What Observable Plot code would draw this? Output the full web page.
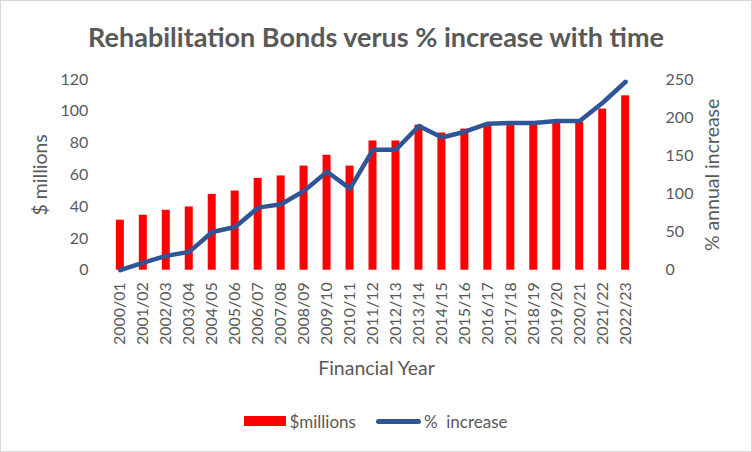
<!DOCTYPE html>
<html>
<head>
<meta charset="utf-8">
<script src="https://cdn.jsdelivr.net/npm/d3@7"></script>
<script src="https://cdn.jsdelivr.net/npm/@observablehq/plot@0.6"></script>
<style>
  html, body { margin: 0; padding: 0; background: #fff; }
  #chart { width: 750px; height: 450px; border: 1px solid #d9d9d9; position: relative; overflow: hidden; font-family: Lato, "Open Sans", sans-serif; color: #595959; }
  #title { position: absolute; left: 0; top: 0; width: 750px; height: 60px; text-align: center; }
  #title span { display: inline-block; font-weight: bold; font-size: 27px; line-height: 27px; margin-top: 22px; white-space: nowrap; }
  #plot { position: absolute; left: -1px; top: 59px; }
  #legend { position: absolute; left: 0; top: 408px; width: 750px; height: 24px; display: flex; justify-content: center; align-items: center; font-size: 17px; }
  .item { display: flex; align-items: center; margin: 0 10px; }
  .sw-bar { width: 42px; height: 10px; background: #ff0000; margin-right: 3px; }
  .sw-line { width: 45px; height: 5px; border-radius: 3px; background: #2f5597; margin-right: 3px; }
</style>
</head>
<body>
<div id="chart">
  <div id="title"><span>Rehabilitation Bonds verus % increase with time</span></div>
  <div id="plot"></div>
  <div id="legend">
    <div class="item"><div class="sw-bar"></div><span>$millions</span></div>
    <div class="item"><div class="sw-line"></div><span>%&nbsp; increase</span></div>
  </div>
</div>
<script>
const years = ["2000/01","2001/02","2002/03","2003/04","2004/05","2005/06","2006/07","2007/08","2008/09","2009/10","2010/11","2011/12","2012/13","2013/14","2014/15","2015/16","2016/17","2017/18","2018/19","2019/20","2020/21","2021/22","2022/23"];
const millions = [31.5,34.6,37.7,39.8,47.7,49.8,57.8,59.3,65.5,72.3,65.5,81.3,81.3,91.3,86.3,88.8,91,92,92,93,93,101.4,109.7];
const pctIncrease = [0,10,18.8,24,50,56.7,82,86.4,104,129,107,158,158,189,174,181.5,192,193,193,195.5,195.5,219.5,247];
const leftTicks = [0,20,40,60,80,100,120];
const rightTicks = [0,50,100,150,200,250];

const leftMax = 120, rightMax = 250;
const k = leftMax / rightMax;
const data = years.map((y, i) => ({year: y, m: millions[i], p: pctIncrease[i], ps: pctIncrease[i] * k}));

const grey = "#595959";
const titleSize = 19.5;
const chart = Plot.plot({
  width: 752,
  height: 332,
  marginTop: 19,
  marginBottom: 122,
  marginLeft: 101,
  marginRight: 108,
  style: {fontFamily: "Lato, 'Open Sans', sans-serif", fontSize: "16px", color: grey, background: "transparent"},
  x: {type: "band", domain: years, paddingInner: 0.66, paddingOuter: 0.33},
  y: {domain: [0, leftMax]},
  marks: [
    Plot.gridY(leftTicks, {stroke: "#d9d9d9", strokeOpacity: 1, strokeWidth: 1.2, x1: 103, x2: 647}),
    Plot.axisY(leftTicks, {anchor: "left", tickSize: 0, tickPadding: 13, label: null, fill: grey, fontSize: 16}),
    Plot.axisY(rightTicks.map(v => v * k), {anchor: "right", tickSize: 0, tickPadding: 22, label: null, fill: grey, fontSize: 16, tickFormat: (d) => String(Math.round(d / k)), textAnchor: "start"}),
    Plot.axisX({anchor: "bottom", tickSize: 0, tickPadding: 12, tickRotate: -90, label: null, fill: grey, fontSize: 16}),
    Plot.barY(data, {x: "year", y: "m", fill: "#ff0000"}),
    Plot.line(data, {x: (d) => d.year, y: "ps", stroke: "#2f5597", strokeWidth: 4.5, strokeLinejoin: "round", strokeLinecap: "round", curve: "linear"}),
    Plot.text(["$ millions"], {frameAnchor: "left", textAnchor: "middle", dx: -61, rotate: -90, fill: grey, fontSize: titleSize}),
    Plot.text(["% annual increase"], {frameAnchor: "right", textAnchor: "middle", dx: 69, rotate: -90, fill: grey, fontSize: titleSize}),
    Plot.text(["Financial Year"], {frameAnchor: "bottom", textAnchor: "middle", dy: 105, fill: grey, fontSize: titleSize, dx: 4})
  ]
});
document.getElementById("plot").appendChild(chart);
</script>
</body>
</html>
